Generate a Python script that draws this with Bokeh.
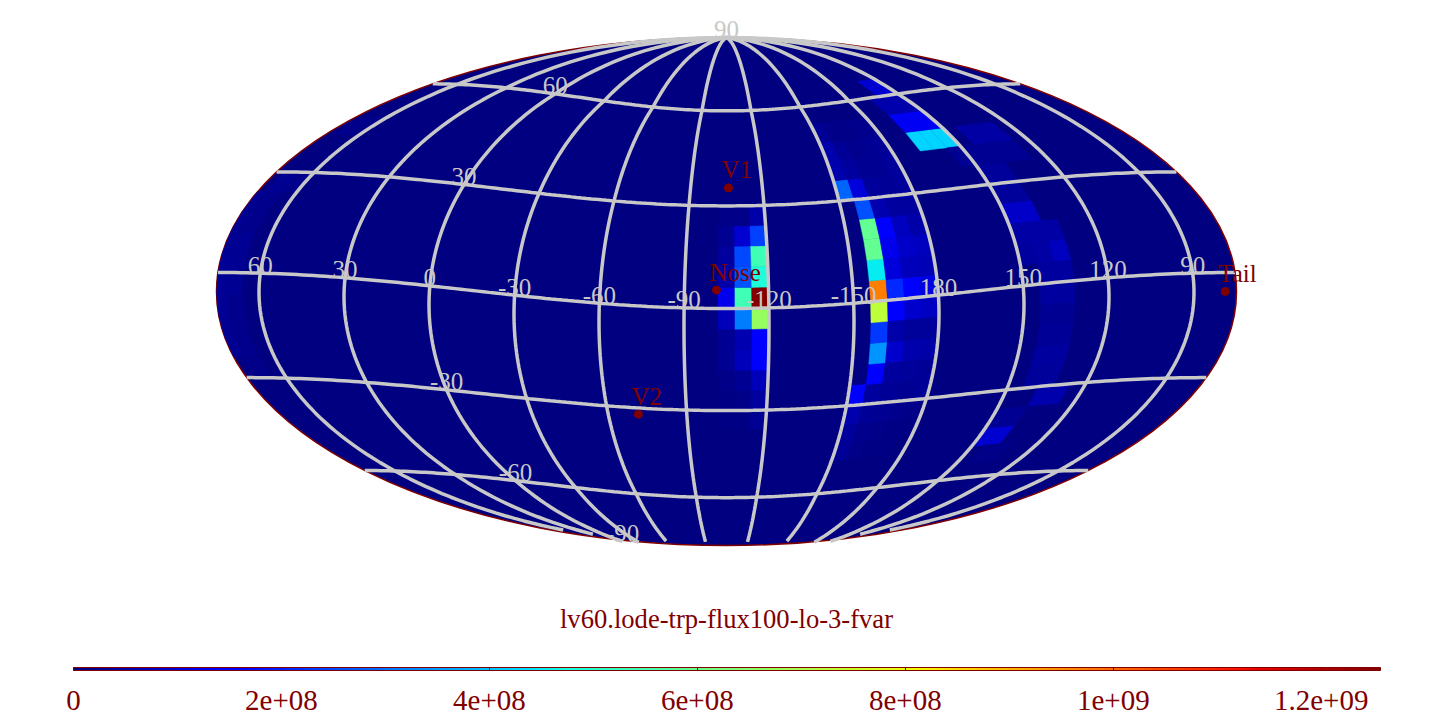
import numpy as np
from bokeh.core.properties import value
from bokeh.embed import file_html
from bokeh.models import ColorBar, ColumnDataSource, FixedTicker, Label, LinearColorMapper
from bokeh.plotting import figure
from bokeh.resources import INLINE

# ---------- data ----------
TITLE = "lv60.lode-trp-flux100-lo-3-fvar"
VMAX = 1.257e9
bar_ticks = [0, 2e8, 4e8, 6e8, 8e8, 1e9, 1.2e9]
bar_labels = ["0", "2e+08", "4e+08", "6e+08", "8e+08", "1e+09", "1.2e+09"]

grid_lons = [60, 30, 0, -30, -60, -90, -120, -150, -180, -210, -240, -270]
grid_lon_labels = ["60", "30", "0", "-30", "-60", "-90", "-120", "-150", "180", "150", "120", "90"]
grid_lats = [-60, -30, 0, 30, 60]
label_lats = [90, 60, 30, -30, -60, -90]
label_lat_text = ["90", "60", "30", "-30", "-60", "-90"]

place_names = ["V1", "Nose", "V2", "Tail"]
place_lon = [-105.8, -101.4, -71.6, -281.0]
place_lat = [35.3, 5.3, -32.0, -5.3]

# map cells, 6 x 6 degrees, values in units of 1e8
rows_centre = [-36, -30, -24, -18, -12, -6, 0, 6, 12, 18, 24]
col_a = [0.05, 0.08, 0.13, 0.24, 0.24, 0.68, 1.18, 0.46, 0.35, 0.24, 0.13]   # -108..-102
col_b = [0.05, 0.13, 0.24, 0.68, 0.57, 3.1, 5.4, 2.63, 2.5, 0.9, 0.13]       # -114..-108
col_c = [0.2, 0.35, 0.68, 1.4, 1.4, 6.7, 12.5, 4.86, 5.4, 2.4, 0.46]         # -120..-114

rows_arc = [-48, -42, -36, -30, -24, -18, -12, -6, 0, 6, 12, 18, 24, 30, 36, 42, 48]
arc_0 = [0.25, 0.3, 0.5, 1.4, 0, 0, 0, 0, 0, 0, 0, 0, 0, 2.8, 0.5, 0.5, 0.25]
arc_1 = [0.1, 0.15, 0.25, 0.35, 1.4, 3.4, 2.3, 7.3, 9.75, 4.5, 5.9, 5.9, 2.6, 1.0, 0.35, 0.25, 0.1]
arc_2 = [0.05, 0.1, 0.2, 0.25, 0.35, 0.85, 0.45, 1.4, 2.1, 1.0, 1.2, 1.4, 0.55, 0.3, 0.2, 0.15, 0.1]
arc_3 = [0.05, 0.05, 0.15, 0.2, 0.3, 0.5, 0.3, 0.85, 1.4, 0.68, 0.8, 0.7, 0.35, 0.25, 0.2, 0.2, 0.15]
arc_4 = [0, 0.05, 0.1, 0.25, 0.25, 0.45, 0.3, 0.75, 1.1, 0.6, 0.7, 0.46, 0.35, 0.3, 0.3, 0.25, 0.15]
arc_cols = [-156, -162, -168, -174, -180]

other_lon = [-210, -204, -198, -210, -204, -198, -210, -204, -198, -210, -204,
             -222, -228, -234, -222, -228, -216, -222, -216, -222, -216, -222,
             -216, -222, -228, -216, -222, -228, -210, -216, -222, -228, -234,
             -222, -228, -222, -228, -222, -228, -228, -234, -216, -222,
             66, 66, 66, 66, 66, 66, 66, 66, 66, 72, 72, 72, 72, 72, 72, 72, 72, 66, 60, 66, 60,
             -222, -228, -222, -228, -222, -228, -216, -222, -222, -228]
other_lat = [42, 42, 42, 48, 48, 48, 54, 54, 54, 60, 60,
             42, 42, 42, 36, 36, 30, 30, 24, 24, 18, 18,
             12, 12, 12, 6, 6, 6, 36, 36, 36, 36, 36,
             0, 0, -6, -6, -24, -24, -36, -36, -48, -48,
             -24, -18, -12, -6, 0, 6, 12, 18, -30, -24, -18, -12, -6, 0, 6, 12, 18, 24, 24, 42, 42,
             -12, -12, -18, -18, -30, -30, -42, -42, -54, -54]
other_val = [4.2, 4.2, 4.2, 1.3, 1.3, 1.3, 0.5, 0.5, 0.5, 0.9, 0.9,
             0.4, 0.4, 0.4, 0.2, 0.2, 0.3, 0.3, 0.3, 0.3, 0.8, 0.8,
             0.4, 0.4, 0.4, 0.35, 0.4, 0.7, 0.2, 0.2, 0.2, 0.2, 0.2,
             0.35, 0.35, 0.35, 0.35, 0.35, 0.35, 0.5, 0.5, 0.9, 0.9,
             0.15, 0.15, 0.15, 0.2, 0.2, 0.2, 0.15, 0.15, 0.12, 0.2, 0.2, 0.25, 0.25, 0.25, 0.2, 0.2, 0.2, 0.2, 0.15, 0.15, 0.12,
             0.2, 0.2, 0.25, 0.25, 0.3, 0.3, 0.2, 0.2, 0.1, 0.1]

# ---------- projection: Mollweide with the bend that the picture's parallels show ----------
LON0 = -105.0
PX_X, PX_Y = 255.0, 254.0
bend_lat = [-90, -60, -30, 0, 30, 60, 90]
bend_centre = [16, 12.5, 16.5, 17, 17, 13, 0]
bend_edge = [-16, -14.6, -16.5, -19, -17, -14, 0]
BOTTOM_CUT = -252.0 / 254.0


def theta_of(lat):
    target = np.pi * np.sin(np.radians(lat))
    lo = -np.pi / 2 * np.ones_like(target)
    hi = np.pi / 2 * np.ones_like(target)
    for _ in range(45):
        mid = (lo + hi) / 2
        big = 2 * mid + np.sin(2 * mid) > target
        hi = np.where(big, mid, hi)
        lo = np.where(big, lo, mid)
    return (lo + hi) / 2


def project(lon, lat):
    lon, lat = np.asarray(lon, float), np.asarray(lat, float)
    lam = np.clip((lon - LON0) / 180.0, -1, 1)
    s = np.sin(theta_of(lat))
    dc = np.interp(lat, bend_lat, bend_centre)
    de = np.interp(lat, bend_lat, bend_edge)
    w = (1 + np.cos(np.pi * lam)) / 2
    y = s - (w * dc + (1 - w) * de) / PX_Y
    f = np.sqrt(np.clip(1 - (s - de / PX_Y) ** 2, 0, 1))
    return -2 * lam * f, y


# ---------- figure ----------
W, H = 1440, 720
CX, CY = 726, 291
p = figure(width=W, height=H, output_backend="svg", toolbar_location=None,
           x_range=(-CX / PX_X, (W - CX) / PX_X), y_range=((CY - H) / PX_Y, CY / PX_Y),
           x_axis_type=None, y_axis_type=None, min_border=0, outline_line_color=None,
           background_fill_color="white", border_fill_color="white")
p.grid.visible = False

t = np.linspace(0, 1, 256)
R = np.interp(t, [0, .35, .66, .89, 1], [0, 0, 255, 255, 128])
G = np.interp(t, [0, .125, .375, .64, .91, 1], [0, 0, 255, 255, 0, 0])
B = np.interp(t, [0, .11, .34, .65, 1], [128, 255, 255, 0, 0])
jet = ["#%02x%02x%02x" % (int(r), int(g), int(b)) for r, g, b in zip(R, G, B)]
mapper = LinearColorMapper(palette=jet, low=0, high=VMAX)

p.ellipse(x=[0], y=[0], width=[4], height=[2], fill_color="#000080",
          line_color="#800000", line_width=1.5)

# cells
c_lon, c_lat, c_val = [], [], []
for west, col in zip([-108, -114, -120], [col_a, col_b, col_c]):
    for la, v in zip(rows_centre, col):
        c_lon.append(west); c_lat.append(la); c_val.append(v)
for west, col in zip(arc_cols, [arc_0, arc_1, arc_2, arc_3, arc_4]):
    for la, v in zip(rows_arc, col):
        if v > 0:
            c_lon.append(west); c_lat.append(la); c_val.append(v)
c_lon += other_lon; c_lat += other_lat; c_val += other_val

xs, ys = [], []
for lo, la in zip(c_lon, c_lat):
    lo_ring = np.array([lo, lo + 6, lo + 6, lo])
    la_ring = np.array([la, la, la + 6, la + 6])
    x, y = project(lo_ring, la_ring)
    xs.append(x.tolist()); ys.append(y.tolist())
src = ColumnDataSource(dict(xs=xs, ys=ys, v=[a * 1e8 for a in c_val]))
p.patches("xs", "ys", source=src, fill_color={"field": "v", "transform": mapper},
          line_color={"field": "v", "transform": mapper}, line_width=0.5)

# graticule
GRID = "#c8c8c8"
for lon in grid_lons:
    la = np.arange(-90, 90.01, 1.5)
    x, y = project(np.full_like(la, lon), la)
    keep = y >= BOTTOM_CUT
    p.line(x[keep], y[keep], line_color=GRID, line_width=3.5)
for lat in grid_lats:
    lo = np.arange(LON0 - 180, LON0 + 180.01, 2.0)
    x, y = project(lo, np.full_like(lo, lat))
    p.line(x, y, line_color=GRID, line_width=3.5)

FONT = value("Liberation Serif")
x, y = project(grid_lons, np.zeros(len(grid_lons)))
p.text(x, y, text=grid_lon_labels, text_font=FONT, text_font_size="25px", text_color=GRID,
       text_align="center", text_baseline="alphabetic", y_offset=-8)
x, y = project(np.zeros(len(label_lats)), label_lats)
y = np.maximum(y, BOTTOM_CUT)
p.text(x, y, text=label_lat_text, text_font=FONT, text_font_size="25px", text_color=GRID,
       text_align="center", text_baseline="alphabetic", y_offset=-8)

x, y = project(place_lon, place_lat)
p.scatter(x, y, size=8, color="#800000")
p.text(x, y, text=place_names, text_font=FONT, text_font_size="25px", text_color="#800000",
       text_align="left", text_baseline="alphabetic", x_offset=-7, y_offset=-18)

p.add_layout(Label(x=726, y=H - 618, x_units="screen", y_units="screen", text=TITLE,
                   text_font="Liberation Serif", text_font_size="26.6px", text_color="#800000",
                   text_align="center", text_baseline="alphabetic"))

bar = ColorBar(color_mapper=mapper, location=(73, 8), width=1307, height=3,
               orientation="horizontal", padding=0, margin=0,
               ticker=FixedTicker(ticks=bar_ticks),
               major_label_overrides=dict(zip(bar_ticks, bar_labels)),
               major_label_text_font="Liberation Serif", major_label_text_font_size="29px",
               major_label_text_color="#800000", label_standoff=20,
               major_tick_line_color="#800000", major_tick_in=3, major_tick_out=0,
               minor_tick_line_color=None, bar_line_color="#800000", bar_line_width=1,
               background_fill_color=None, border_line_color=None)
p.add_layout(bar)

open("out.html", "w").write(file_html(p, INLINE))
